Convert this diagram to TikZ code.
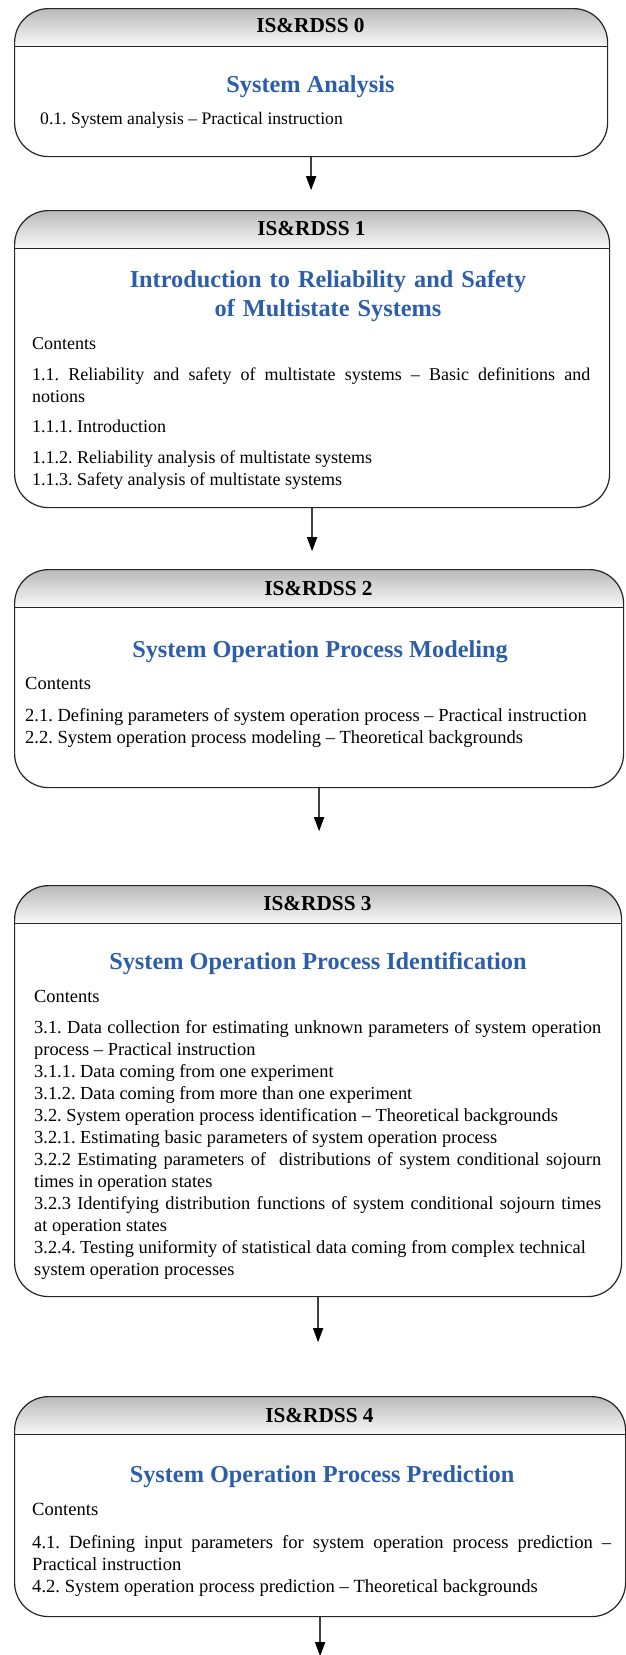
\documentclass[tikz,border=0pt]{standalone}
\usepackage{fontspec}
\setmainfont{Liberation Serif}
\usetikzlibrary{arrows.meta,positioning}
\definecolor{headBlue}{RGB}{44,94,170}
\definecolor{barTop}{RGB}{186,186,186}
\definecolor{barBot}{RGB}{248,248,248}
\frenchspacing
\hbadness=10000

\begin{document}
\begin{tikzpicture}[x=1pt, y=-1pt,
    card/.style={draw=black!85, line width=1.2pt, fill=white, rounded corners=34pt,
      anchor=north west, inner sep=0pt,
      path picture={
        \foreach \k [evaluate=\k as \p using 100*\k/37] in {0,...,37}
          \fill[sharp corners, barBot!\p!barTop]
            ([yshift={-\k*1pt}]path picture bounding box.north west) rectangle
            ([yshift={-(\k+1.2)*1pt}]path picture bounding box.north east);
        \draw[sharp corners, line width=1.4pt, black!85]
          ([yshift=-38pt]path picture bounding box.north west) -- ([yshift=-38pt]path picture bounding box.north east);
      }},
    hdr/.style={anchor=base, inner sep=0pt, font=\fontsize{21.3}{25}\selectfont\bfseries},
    ttl/.style={anchor=base, inner sep=0pt, align=center, text=headBlue,
      font=\fontsize{24.3}{29}\selectfont\bfseries},
    txt/.style={anchor=base west, inner sep=0pt, align=justify,
      font=\fontsize{#1}{22}\selectfont},
    arr/.style={draw=black!75, line width=1.3pt, -{Triangle[length=14pt,width=10pt,color=black]}}
  ]
  \useasboundingbox (0,0) rectangle (626,1655);

  % IS&RDSS 0
  \node[card, minimum width=593pt, minimum height=148pt] (b0) at (14,8) {};
  \node[hdr] (t0) at (310.5,32) {IS\&RDSS 0};
  \node[ttl] (h0) at (310.5,92) {System Analysis};
  \node[txt=17.6, text width=560pt] (c0) at (40,124) {0.1. System analysis -- Practical instruction};

  % IS&RDSS 1
  \node[card, minimum width=595pt, minimum height=297pt] (b1) at (14,210) {};
  \node[hdr] (t1) at (311.5,235) {IS\&RDSS 1};
  \node[ttl, text width=520pt] (h1) at (328,287) {Introduction to Reliability and Safety\\of Multistate Systems};
  \node[txt=18, text width=558pt] (c1) at (32,349) {Contents\\[9pt]
    1.1. Reliability and safety of multistate systems -- Basic definitions and\linebreak notions\\[8pt]
    1.1.1. Introduction\\[9pt]
    1.1.2. Reliability analysis of multistate systems\\
    1.1.3. Safety analysis of multistate systems};

  % IS&RDSS 2
  \node[card, minimum width=609pt, minimum height=218pt] (b2) at (14,569) {};
  \node[hdr] (t2) at (318.5,595) {IS\&RDSS 2};
  \node[ttl] (h2) at (320,657) {System Operation Process Modeling};
  \node[txt=18.5, text width=585pt] (c2) at (25,689) {Contents\\[10pt]
    2.1. Defining parameters of system operation process -- Practical instruction\\
    2.2. System operation process modeling -- Theoretical backgrounds};

  % IS&RDSS 3
  \node[card, minimum width=607pt, minimum height=411pt] (b3) at (14,885) {};
  \node[hdr] (t3) at (317.5,910) {IS\&RDSS 3};
  \node[ttl] (h3) at (318,969) {System Operation Process Identification};
  \node[txt=18.4, text width=567pt] (c3) at (34,1002) {Contents\\[9pt]
    3.1. Data collection for estimating unknown parameters of system operation\linebreak process -- Practical instruction\\
    3.1.1. Data coming from one experiment\\
    3.1.2. Data coming from more than one experiment\\
    3.2. System operation process identification -- Theoretical backgrounds\\
    3.2.1. Estimating basic parameters of system operation process\\
    3.2.2 Estimating parameters of\ \ distributions of system conditional sojourn\linebreak times in operation states\\
    3.2.3 Identifying distribution functions of system conditional sojourn times\linebreak at operation states\\
    3.2.4. Testing uniformity of statistical data coming from complex technical\\
    system operation processes};

  % IS&RDSS 4
  \node[card, minimum width=611pt, minimum height=220pt] (b4) at (14,1396) {};
  \node[hdr] (t4) at (319.5,1422) {IS\&RDSS 4};
  \node[ttl] (h4) at (322,1482) {System Operation Process Prediction};
  \node[txt=18.6, text width=579pt] (c4) at (32,1515) {Contents\\[11pt]
    4.1. Defining input parameters for system operation process prediction --\linebreak Practical instruction\\
    4.2. System operation process prediction -- Theoretical backgrounds};

  % arrows
  \coordinate[below=33pt of b0.south] (e0);
  \coordinate[below=43pt of b1.south] (e1);
  \coordinate[below=43pt of b2.south] (e2);
  \coordinate[below=45pt of b3.south] (e3);
  \coordinate[below=39pt of b4.south] (e4);
  \foreach \i in {0,...,4}
    \draw[arr] (b\i.south) -- (e\i);
\end{tikzpicture}
\end{document}
